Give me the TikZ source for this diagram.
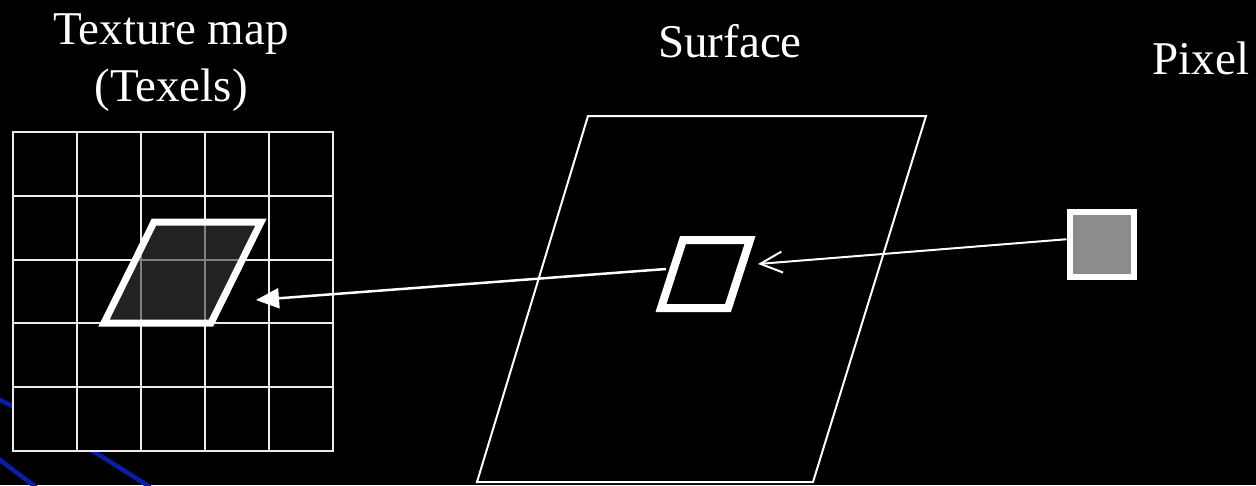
\documentclass[tikz,border=0pt]{standalone}
\usepackage{fontspec}
\setmainfont{Liberation Serif}
\usetikzlibrary{arrows.meta}
\definecolor{decoblue}{RGB}{10,30,165}
\definecolor{pixgray}{RGB}{140,140,140}
\definecolor{texfill}{RGB}{57,57,57}
\begin{document}
\begin{tikzpicture}[x=1pt,y=-1pt,
  titletext/.style={text=white, font=\fontsize{47}{56}\selectfont, inner sep=0pt, anchor=base},
  gridline/.style={draw=white!92!black, line width=2pt},
  decoline/.style={draw=decoblue, line width=4.5pt},
  outline/.style={draw=white, line width=2pt},
  thickoutline/.style={draw=white, line width=#1},
  connector/.style={draw=white, line width=2pt}
]
\fill[black] (0,0) rectangle (1256,485);
\useasboundingbox (0,0) rectangle (1256,485);
\clip (0,0) rectangle (1256,485);

% background decoration
\draw[decoline] (-3,398.6) .. controls (50,423) and (97,453.5) .. (150,487);
\draw[decoline] (-3,457.7) -- (36,487.3);

% texture map grid
\filldraw[fill=black, gridline] (13,132) rectangle (333,451);
\foreach \i in {1,...,4} {
  \draw[gridline] (13+64*\i,132) -- (13+64*\i,451);
  \draw[gridline] (13,132+63.8*\i) -- (333,132+63.8*\i);
}

% texel footprint
\filldraw[fill=texfill, fill opacity=0.6, thickoutline=7pt]
  (154,222) -- (261,222) -- (211,323) -- (104,323) -- cycle;

% surface
\draw[outline] (588,116) -- (926,116) -- (813,482) -- (477,482) -- cycle;
\draw[thickoutline=8pt] (683,240) -- (750,240) -- (728,308) -- (661,308) -- cycle;

% pixel
\node[draw=white, line width=6pt, fill=pixgray, minimum size=64.5pt, inner sep=0pt] (pix) at (1101.75,244.25) {};

% connectors
\coordinate (surfStart) at (666,269);
\coordinate (texTip) at (256,300);
\coordinate (surfTip) at (758,264);
\draw[connector, line width=2.5pt, -{Triangle[length=23pt,width=20pt]}] (surfStart) -- (texTip);
\draw[connector, -{Straight Barb[length=22pt,width=21pt]}] ([yshift=5pt]pix.west) -- (surfTip);

% labels
\node[titletext] (tex1) at (171,44.3) {Texture map};
\node[titletext] (tex2) at (171,101.7) {(Texels)};
\node[titletext] (surf) at (730,57.7) {Surface};
\node[titletext] (pixl) at (1201,74.3) {Pixel};
\end{tikzpicture}
\end{document}
